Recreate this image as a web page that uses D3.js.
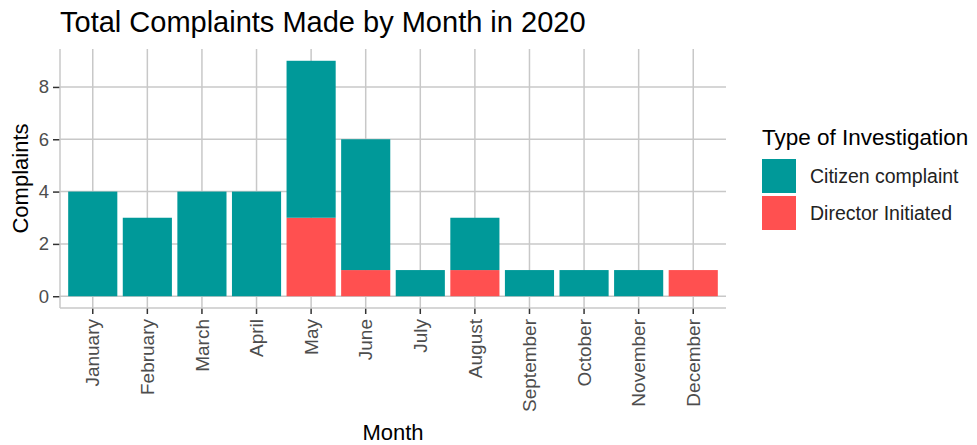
<!DOCTYPE html>
<html>
<head>
<meta charset="utf-8">
<script src="https://cdn.jsdelivr.net/npm/d3@7"></script>
<style>
  body { margin: 0; background: #fff; }
  svg { display: block; font-family: Arial, "Liberation Sans", sans-serif; }
</style>
</head>
<body>
<div id="chart"></div>
<script>
// data
const months = ["January", "February", "March", "April", "May", "June",
                "July", "August", "September", "October", "November", "December"];
const citizen = [4, 3, 4, 4, 6, 5, 1, 2, 1, 1, 1, 0];
const director = [0, 0, 0, 0, 3, 1, 0, 1, 0, 0, 0, 1];
const types = ["Citizen complaint", "Director Initiated"];
const colors = ["#009999", "#ff5050"];
const yTicks = [0, 2, 4, 6, 8];

const width = 977, height = 445;
const margin = {top: 49, right: 251, bottom: 137, left: 60};

const svg = d3.select("#chart").append("svg")
    .attr("width", width)
    .attr("height", height);

// stacked rows, director at the bottom
let rows = months.map((m, i) => ({month: m, director: director[i], citizen: citizen[i]}));
let stack = d3.stack().keys(["director", "citizen"])(rows);

// same spacing as ggplot's discrete axis (0.6 units each side, bars 0.9 wide)
let x = d3.scaleBand()
    .domain(months)
    .range([margin.left, width - margin.right])
    .paddingInner(0.1)
    .paddingOuter(0.15);

let yMax = d3.max(rows, d => d.director + d.citizen);
let ex = yMax * 0.05;
let y = d3.scaleLinear()
    .domain([-ex, yMax + ex])
    .range([height - margin.bottom, margin.top]);

let gridColor = "#c8c8c8";

// grid
svg.append("g").selectAll("line.h")
    .data(yTicks)
    .join("line")
    .attr("x1", margin.left).attr("x2", width - margin.right)
    .attr("y1", d => y(d)).attr("y2", d => y(d))
    .attr("stroke", gridColor).attr("stroke-width", 1.5);

svg.append("g").selectAll("line.v")
    .data(months)
    .join("line")
    .attr("x1", d => x(d) + x.bandwidth() / 2).attr("x2", d => x(d) + x.bandwidth() / 2)
    .attr("y1", margin.top).attr("y2", height - margin.bottom)
    .attr("stroke", gridColor).attr("stroke-width", 1.5);

// bars
let fill = d3.scaleOrdinal().domain(["citizen", "director"]).range(colors);
svg.append("g").selectAll("g")
    .data(stack)
    .join("g")
    .attr("fill", d => fill(d.key))
    .selectAll("rect")
    .data(d => d.filter(s => s[1] > s[0]))
    .join("rect")
    .attr("x", d => x(d.data.month))
    .attr("width", x.bandwidth())
    .attr("y", d => y(d[1]))
    .attr("height", d => y(d[0]) - y(d[1]));

// axes
let xAxis = svg.append("g")
    .attr("transform", `translate(0,${height - margin.bottom})`)
    .call(d3.axisBottom(x).tickSize(6).tickPadding(4));
xAxis.select(".domain").remove();
xAxis.selectAll(".tick line").attr("stroke", "#333").attr("stroke-width", 1.5);
xAxis.selectAll(".tick text")
    .attr("transform", "rotate(-90)")
    .attr("x", -11).attr("y", 0).attr("dy", "0.35em")
    .attr("text-anchor", "end")
    .attr("font-size", 19)
    .attr("fill", "#4d4d4d");

let yAxis = svg.append("g")
    .attr("transform", `translate(${margin.left},0)`)
    .call(d3.axisLeft(y).tickValues(yTicks).tickSize(7).tickPadding(4));
yAxis.select(".domain").remove();
yAxis.selectAll(".tick line").attr("stroke", "#333").attr("stroke-width", 1.5);
yAxis.selectAll(".tick text").attr("font-size", 18.5).attr("fill", "#4d4d4d");

// axis lines
svg.append("line")
    .attr("x1", margin.left).attr("x2", width - margin.right)
    .attr("y1", height - margin.bottom).attr("y2", height - margin.bottom)
    .attr("stroke", gridColor).attr("stroke-width", 1.5);
svg.append("line")
    .attr("x1", margin.left).attr("x2", margin.left)
    .attr("y1", margin.top).attr("y2", height - margin.bottom)
    .attr("stroke", gridColor).attr("stroke-width", 1.5);

// titles
svg.append("text")
    .attr("x", 60).attr("y", 32)
    .attr("font-size", 29)
    .attr("fill", "#000")
    .text("Total Complaints Made by Month in 2020");

svg.append("text")
    .attr("x", (margin.left + width - margin.right) / 2).attr("y", 440)
    .attr("text-anchor", "middle")
    .attr("font-size", 22)
    .text("Month");

svg.append("text")
    .attr("transform", `translate(28,${(margin.top + height - margin.bottom) / 2}) rotate(-90)`)
    .attr("text-anchor", "middle")
    .attr("font-size", 22)
    .text("Complaints");

// legend
let legend = svg.append("g").attr("transform", "translate(762,0)");
legend.append("text")
    .attr("x", 0).attr("y", 145)
    .attr("font-size", 22.5)
    .text("Type of Investigation");

let items = legend.selectAll("g.item")
    .data(types)
    .join("g")
    .attr("transform", (d, i) => `translate(0,${159 + i * 37})`);
items.append("rect")
    .attr("width", 34).attr("height", 34)
    .attr("fill", (d, i) => colors[i]);
items.append("text")
    .attr("x", 48).attr("y", 17).attr("dy", "0.35em")
    .attr("font-size", 19.5)
    .attr("fill", "#222")
    .text(d => d);
</script>
</body>
</html>
